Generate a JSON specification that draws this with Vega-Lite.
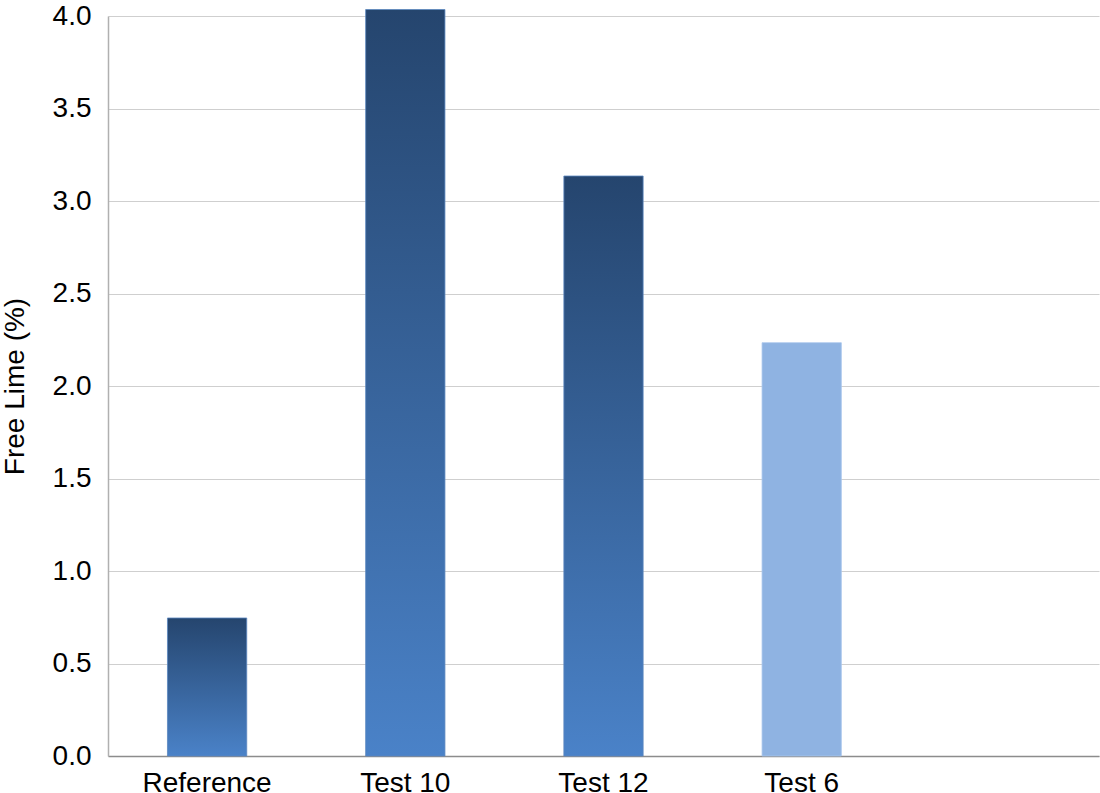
{
  "$schema": "https://vega.github.io/schema/vega-lite/v6.json",
  "width": 991,
  "height": 740,
  "autosize": {"type": "none"},
  "padding": {"left": 108, "top": 16, "right": 1, "bottom": 37},
  "background": "white",
  "config": {
    "view": {"stroke": null},
    "font": "Liberation Sans"
  },
  "data": {
    "values": [
      {"group": "Reference", "lime": 0.746, "kind": "dark"},
      {"group": "Test 10", "lime": 4.035, "kind": "dark"},
      {"group": "Test 12", "lime": 3.135, "kind": "dark"},
      {"group": "Test 6", "lime": 2.234, "kind": "light"}
    ]
  },
  "encoding": {
    "x": {
      "field": "group",
      "type": "nominal",
      "sort": null,
      "scale": {"domain": ["Reference", "Test 10", "Test 12", "Test 6", ""], "paddingInner": 0.6, "paddingOuter": 0.3},
      "axis": {
        "title": null,
        "labelAngle": 0,
        "labelFontSize": 28,
        "labelColor": "#000000",
        "labelPadding": 13,
        "ticks": false,
        "domainColor": "#8c8c8c",
        "domainWidth": 1.5,
        "grid": false
      }
    },
    "y": {
      "field": "lime",
      "type": "quantitative",
      "scale": {"domain": [0, 4], "nice": false, "zero": true},
      "axis": {
        "title": "Free Lime (%)",
        "titleFontSize": 28,
        "titleFontWeight": "normal",
        "titleColor": "#000000",
        "titlePadding": 23,
        "values": [0, 0.5, 1, 1.5, 2, 2.5, 3, 3.5, 4],
        "format": ".1f",
        "labelFontSize": 28,
        "labelColor": "#000000",
        "labelPadding": 17,
        "ticks": false,
        "domainColor": "#b0b0b0",
        "domainWidth": 1.5,
        "gridColor": "#cfcfcf",
        "gridWidth": 1.2
      }
    }
  },
  "layer": [
    {
      "transform": [{"filter": "datum.kind === 'dark'"}],
      "mark": {
        "type": "bar",
        "clip": false,
        "stroke": "#5b86bf",
        "strokeWidth": 0.8,
        "color": {
          "gradient": "linear",
          "x1": 0, "y1": 0, "x2": 0, "y2": 1,
          "stops": [
            {"offset": 0, "color": "#25456e"},
            {"offset": 1, "color": "#4a82c8"}
          ]
        }
      }
    },
    {
      "transform": [{"filter": "datum.kind === 'light'"}],
      "mark": {"type": "bar", "clip": false, "color": "#8fb3e2", "stroke": "#a9c6ec", "strokeWidth": 0.8}
    }
  ]
}
